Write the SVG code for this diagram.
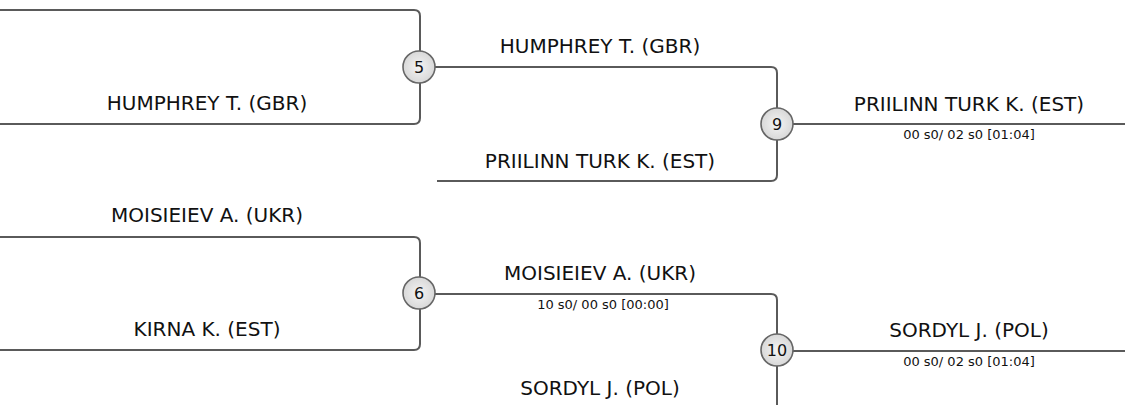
<svg xmlns="http://www.w3.org/2000/svg" width="1125" height="405" viewBox="0 0 1125 405">
<defs>
<radialGradient id="g" cx="0.5" cy="0.5" r="0.5">
<stop offset="0" stop-color="#f4f4f4"/>
<stop offset="1" stop-color="#d8d8d8"/>
</radialGradient>
<style>
.c{fill:none;stroke:#5a5a5a;stroke-width:2}
.n{fill:url(#g);stroke:#666;stroke-width:1.6}
.t{font-family:"DejaVu Sans",sans-serif;font-size:20px;fill:#111;text-anchor:middle}
.s{font-family:"DejaVu Sans",sans-serif;font-size:13px;fill:#111;text-anchor:middle}
.b{font-family:"DejaVu Sans",sans-serif;font-size:16px;fill:#111;text-anchor:middle}
</style>
</defs>
<rect width="1125" height="405" fill="#fff"/>
<g id="connectors">
<path class="c" d="M0,10 H414 Q420,10 420,16 V118 Q420,124 414,124 H0"/>
<path class="c" d="M420,67 H771 Q777,67 777,73 V175 Q777,181 771,181 H437"/>
<path class="c" d="M777,124 H1125"/>
<path class="c" d="M0,237 H414 Q420,237 420,243 V344 Q420,350 414,350 H0"/>
<path class="c" d="M420,294 H771 Q777,294 777,300 V405"/>
<path class="c" d="M777,351 H1125"/>
</g>
<g id="labels">
<text class="t" x="207" y="110">HUMPHREY T. (GBR)</text>
<text class="t" x="600" y="53">HUMPHREY T. (GBR)</text>
<text class="t" x="600" y="168">PRIILINN TURK K. (EST)</text>
<text class="t" x="969" y="111">PRIILINN TURK K. (EST)</text>
<text class="s" x="969" y="139">00 s0/ 02 s0 [01:04]</text>
<text class="t" x="207" y="222">MOISIEIEV A. (UKR)</text>
<text class="t" x="207" y="336">KIRNA K. (EST)</text>
<text class="t" x="600" y="280">MOISIEIEV A. (UKR)</text>
<text class="s" x="603" y="309">10 s0/ 00 s0 [00:00]</text>
<text class="t" x="969" y="337">SORDYL J. (POL)</text>
<text class="s" x="969" y="366">00 s0/ 02 s0 [01:04]</text>
<text class="t" x="600" y="395">SORDYL J. (POL)</text>
</g>
<g id="node5"><circle class="n" cx="419" cy="67" r="16"/><text class="b" x="419" y="73">5</text></g>
<g id="node9"><circle class="n" cx="777" cy="124" r="16"/><text class="b" x="777" y="130">9</text></g>
<g id="node6"><circle class="n" cx="419" cy="293" r="16"/><text class="b" x="419" y="299">6</text></g>
<g id="node10"><circle class="n" cx="777" cy="350" r="16"/><text class="b" x="777" y="356">10</text></g>
</svg>
